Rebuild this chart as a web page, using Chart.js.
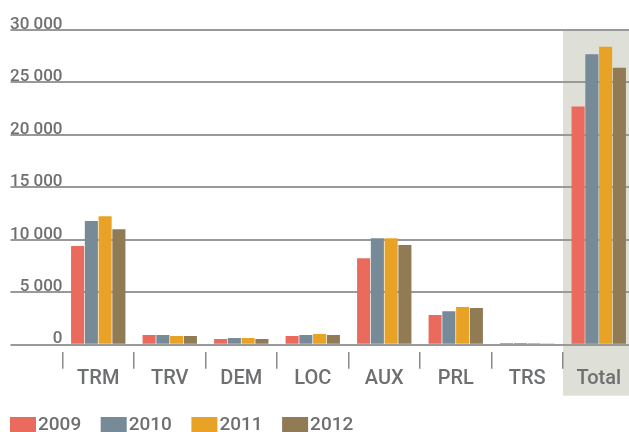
<!DOCTYPE html>
<html>
<head>
<meta charset="utf-8">
<title>Effectifs par catégorie</title>
<script src="https://cdn.jsdelivr.net/npm/chart.js@4/dist/chart.umd.min.js"></script>
<style>
    html, body { margin: 0; padding: 0; background: #fff; overflow: hidden; }
    #chart { display: block; }
</style>
</head>
<body>
<canvas id="chart" width="636" height="432"></canvas>
<script>
const categories = ['TRM', 'TRV', 'DEM', 'LOC', 'AUX', 'PRL', 'TRS', 'Total'];
const years = ['2009', '2010', '2011', '2012'];
const values2009 = [9400, 920, 540, 830, 8250, 2830, 160, 22700];
const values2010 = [11800, 920, 640, 920, 10150, 3200, 160, 27700];
const values2011 = [12250, 830, 640, 1020, 10150, 3590, 160, 28400];
const values2012 = [11000, 830, 540, 920, 9500, 3490, 70, 26400];
const yearColors = ['#eb6a5e', '#768a97', '#e8a326', '#907b55'];

const textGray = '#6e6f71';
const lineGray = '#999999';

// shaded column behind the "Total" group
const totalBackground = {
    id: 'totalBackground',
    beforeDraw(chart) {
        const { ctx, chartArea, scales } = chart;
        const x = scales.x;
        const half = (x.getPixelForValue(1) - x.getPixelForValue(0)) / 2;
        const left = x.getPixelForValue(categories.length - 1) - half;
        ctx.save();
        ctx.fillStyle = '#dedfd7';
        ctx.fillRect(left, chartArea.top, chart.width - left, chartArea.bottom + 51 - chartArea.top);
        ctx.restore();
    }
};

// legend row at the bottom: swatch + year
const yearLegend = {
    id: 'yearLegend',
    afterDraw(chart) {
        const ctx = chart.ctx;
        ctx.save();
        ctx.font = '500 19px Roboto';
        ctx.textBaseline = 'alphabetic';
        ctx.textAlign = 'left';
        chart.data.datasets.forEach((ds, i) => {
            const x = 10 + i * 90.7;
            ctx.fillStyle = ds.backgroundColor;
            ctx.fillRect(x, 417, 26, 18);
            ctx.fillStyle = textGray;
            ctx.fillText(ds.label, x + 28, 430);
        });
        ctx.restore();
    }
};

const series = [values2009, values2010, values2011, values2012];

new Chart(document.getElementById('chart'), {
    type: 'bar',
    data: {
        labels: categories,
        datasets: years.map((year, i) => ({
            label: year,
            data: series[i],
            backgroundColor: yearColors[i],
            categoryPercentage: 0.77,
            barPercentage: 0.95
        }))
    },
    options: {
        responsive: false,
        animation: false,
        layout: { padding: { top: 30, left: 0, right: 1.5, bottom: 30 } },
        plugins: {
            legend: { display: false },
            tooltip: { enabled: false }
        },
        scales: {
            x: {
                offset: true,
                border: { display: false },
                grid: {
                    offset: true,
                    drawOnChartArea: false,
                    color: '#8a8a8a',
                    lineWidth: 1.5,
                    tickLength: 24,
                    tickBorderDash: [0, 7, 17, 0]
                },
                ticks: {
                    color: textGray,
                    font: { family: 'Roboto', size: 20, weight: '500' },
                    padding: -2
                },
                afterFit(scale) { scale.height = 57.3; }
            },
            y: {
                min: 0,
                max: 30000,
                border: { display: false },
                grid: {
                    color: lineGray,
                    lineWidth: 2,
                    tickLength: 52,
                    tickColor: lineGray
                },
                ticks: {
                    stepSize: 5000,
                    color: textGray,
                    font: { family: 'Roboto', size: 17, weight: '500' },
                    align: 'end',
                    padding: -52,
                    labelOffset: 3,
                    callback: v => String(v).replace(/\B(?=(\d{3})+(?!\d))/g, ' ')
                },
                afterFit(scale) { scale.width = 62.5; }
            }
        }
    },
    plugins: [totalBackground, yearLegend]
});
</script>
</body>
</html>
